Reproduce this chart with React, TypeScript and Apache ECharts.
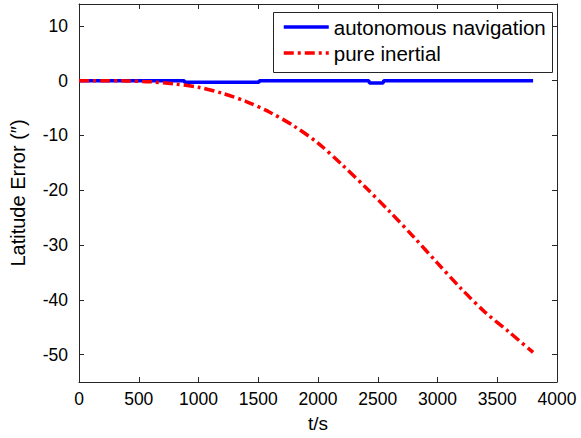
import React, { useEffect, useRef } from "react";
import * as echarts from "echarts";

const seriesNames = ["autonomous navigation", "pure inertial"];

const autoT = [0, 880, 885, 1505, 1510, 2425, 2430, 2545, 2550, 3800];
const autoV = [0, 0, -0.3, -0.3, 0, 0, -0.4, -0.4, 0, 0];

const inertialT = [0, 200, 400, 600, 800, 1000, 1200, 1400, 1600, 1800, 2000, 2200, 2400, 2600, 2800, 3000, 3200, 3400, 3600, 3800];
const inertialV = [0, 0, -0.05, -0.2, -0.6, -1.2, -2.3, -3.8, -5.8, -8.3, -11.4, -15.3, -19.5, -23.9, -28.5, -33.3, -38.0, -42.3, -45.9, -49.6];

const yTicks = [-50, -40, -30, -20, -10, 0, 10];

const FONT = "'Liberation Sans', Arial, sans-serif";
const AXIS_COLOR = "#262626";

export default function App() {
  const ref = useRef<HTMLDivElement>(null);
  useEffect(() => {
    if (!ref.current) return;
    const chart = echarts.init(ref.current, null, { renderer: "svg" });
    const autoData = autoT.map((t, i) => [t, autoV[i]]);
    const inertialData = inertialT.map((t, i) => [t, inertialV[i]]);
    chart.setOption({
      animation: false,
      backgroundColor: "#ffffff",
      textStyle: { fontFamily: FONT },
      grid: { left: 77, right: 24, top: 4, bottom: 55, containLabel: false },
      xAxis: [
        {
          type: "value",
          min: 0,
          max: 4000,
          interval: 500,
          name: "t/s",
          nameLocation: "middle",
          nameGap: 32,
          nameTextStyle: { fontSize: 19, color: "#000", fontFamily: FONT },
          axisLine: { show: true, onZero: false, lineStyle: { color: AXIS_COLOR, width: 1 } },
          axisTick: { show: true, inside: true, length: 5, lineStyle: { color: AXIS_COLOR } },
          axisLabel: {
            fontSize: 17.5,
            color: "#000",
            margin: 8,
            fontFamily: FONT,
            formatter: (v: number) => String(v),
          },
          splitLine: { show: false },
        },
        {
          type: "value",
          position: "top",
          min: 0,
          max: 4000,
          interval: 500,
          axisLine: { show: true, onZero: false, lineStyle: { color: AXIS_COLOR, width: 1 } },
          axisTick: { show: true, inside: true, length: 5, lineStyle: { color: AXIS_COLOR } },
          axisLabel: { show: false },
          splitLine: { show: false },
        },
      ],
      yAxis: [
        {
          type: "value",
          min: -55,
          max: 14,
          name: "Latitude Error (″)",
          nameLocation: "middle",
          nameGap: 51,
          nameTextStyle: { fontSize: 20, color: "#000", fontFamily: FONT },
          axisLine: { show: true, onZero: false, lineStyle: { color: AXIS_COLOR, width: 1 } },
          axisTick: { show: true, inside: true, length: 5, customValues: yTicks, lineStyle: { color: AXIS_COLOR } },
          axisLabel: {
            fontSize: 17.5,
            color: "#000",
            margin: 11,
            customValues: yTicks,
            fontFamily: FONT,
            formatter: (v: number) => String(v),
          },
          splitLine: { show: false },
        },
        {
          type: "value",
          position: "right",
          min: -55,
          max: 14,
          axisLine: { show: true, onZero: false, lineStyle: { color: AXIS_COLOR, width: 1 } },
          axisTick: { show: true, inside: true, length: 5, customValues: yTicks, lineStyle: { color: AXIS_COLOR } },
          axisLabel: { show: false, customValues: yTicks },
          splitLine: { show: false },
        },
      ],
      legend: {
        orient: "vertical",
        left: 282,
        top: 16.5,
        padding: 0,
        itemWidth: 45,
        itemHeight: 20,
        itemGap: 5,
        z: 10,
        itemStyle: { opacity: 0, borderWidth: 0 },
        lineStyle: { width: 3.5 },
        textStyle: { fontSize: 20.5, color: "#000", fontFamily: FONT },
        data: seriesNames,
      },
      graphic: [
        {
          type: "rect",
          z: 9,
          shape: { x: 273.5, y: 12.5, width: 279, height: 60 },
          style: { fill: "#ffffff", stroke: AXIS_COLOR, lineWidth: 1 },
        },
      ],
      series: [
        {
          name: seriesNames[0],
          type: "line",
          data: autoData,
          showSymbol: false,
          symbol: "none",
          lineStyle: { color: "#0000ff", width: 3.5 },
          itemStyle: { color: "#0000ff" },
          z: 2,
        },
        {
          name: seriesNames[1],
          type: "line",
          data: inertialData,
          showSymbol: false,
          symbol: "none",
          smooth: 0.3,
          lineStyle: { color: "#ff0000", width: 3.5, type: [10, 4, 3, 4] },
          itemStyle: { color: "#ff0000" },
          z: 3,
        },
      ],
    });
    return () => chart.dispose();
  }, []);
  return <div ref={ref} style={{ width: 581, height: 438, position: "absolute", left: 0, top: 0 }} />;
}
